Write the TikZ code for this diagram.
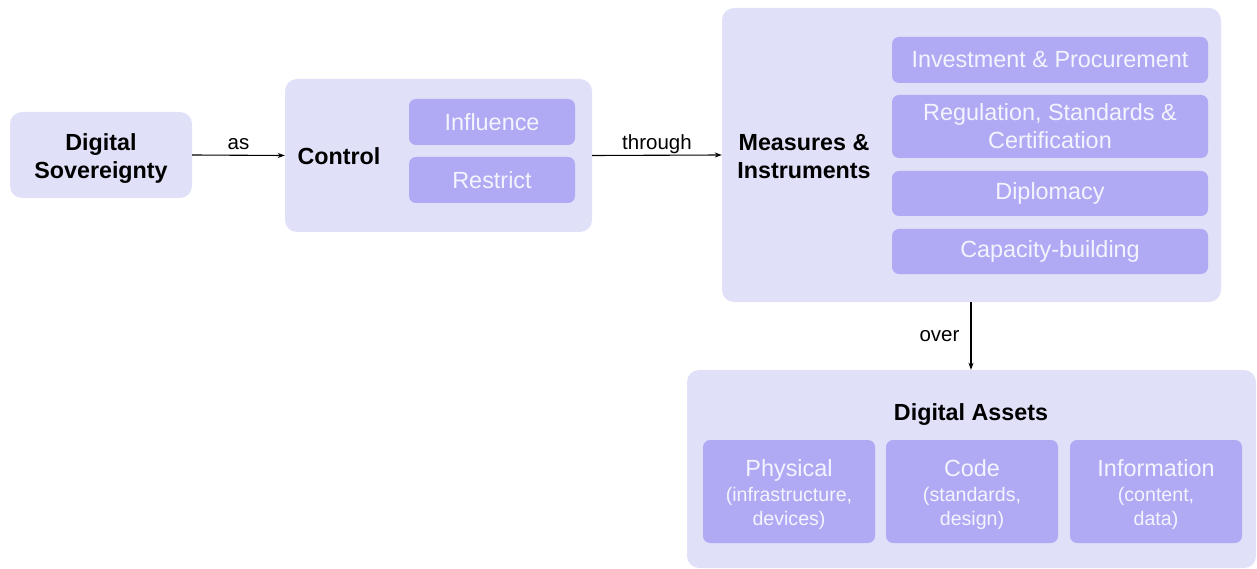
\documentclass[tikz,border=0pt]{standalone}
\usepackage{fontspec}
\setmainfont{Liberation Sans}
\usetikzlibrary{arrows.meta}
\definecolor{outerc}{RGB}{224,224,248}
\definecolor{innerc}{RGB}{176,170,244}
\definecolor{innertext}{RGB}{244,244,255}
\tikzset{
  outerbox/.style={fill=outerc, draw=none, rounded corners=12pt, inner sep=0pt},
  innerbox/.style={fill=innerc, draw=none, rounded corners=7pt, inner sep=0pt, text=innertext, align=center,
    font=\fontsize{23.4}{28}\selectfont},
  assetbox/.style={innerbox, minimum width=172pt, minimum height=103pt, font=\fontsize{23.4}{24.5}\selectfont},
  boldlabel/.style={font=\bfseries\fontsize{23.3}{28}\selectfont, align=center, inner sep=0pt},
  edgelabel/.style={font=\fontsize{20.5}{24}\selectfont, inner sep=0pt, anchor=base},
  conn/.style={draw=black, line width=1.1pt, -{Stealth[length=7pt,width=5pt]}}
}
\newcommand{\subtxt}[1]{{\fontsize{19.6}{24.5}\selectfont #1}}
\begin{document}
\begin{tikzpicture}[x=1pt,y=-1pt]
\useasboundingbox (0,0) rectangle (1257,569);
% Digital Sovereignty
\node[outerbox, minimum width=182pt, minimum height=86pt] (ds) at (101,155) {};
\node[boldlabel] (dstxt) at (101,158.5) {Digital\\Sovereignty};
% Control
\node[outerbox, minimum width=307pt, minimum height=153pt] (ctrl) at (438.5,155.5) {};
\node[boldlabel] (ctrltxt) at (339,156.5) {Control};
\node[innerbox, minimum width=166pt, minimum height=46pt] (infl) at (492,122) {Influence};
\node[innerbox, minimum width=166pt, minimum height=46pt] (restr) at (492,180) {Restrict};
% Measures
\node[outerbox, minimum width=499pt, minimum height=294pt] (meas) at (971.5,155) {};
\node[boldlabel] (meastxt) at (804,157) {Measures \&\\Instruments};
\node[innerbox, minimum width=316pt, minimum height=46pt] (inv) at (1050,60) {Investment \& Procurement};
\node[innerbox, minimum width=316pt, minimum height=63pt] (reg) at (1050,126.5) {Regulation, Standards \&\\Certification};
\node[innerbox, minimum width=316pt, minimum height=45pt] (dipl) at (1050,193.5) {Diplomacy};
\node[innerbox, minimum width=316pt, minimum height=45pt] (cap) at (1050,251.5) {Capacity-building};
% Digital Assets
\node[outerbox, minimum width=569pt, minimum height=198pt] (assets) at (971.5,469) {};
\node[boldlabel] (assetstxt) at (971,415) {Digital Assets};
\node[assetbox] (phys) at (789,491.5) {};
\node[assetbox] (code) at (972,491.5) {};
\node[assetbox] (info) at (1156,491.5) {};
\node[assetbox, fill=none, minimum width=0pt, minimum height=0pt] (physt) at (789,495) {Physical\\\subtxt{(infrastructure,}\\\subtxt{devices)}};
\node[assetbox, fill=none, minimum width=0pt, minimum height=0pt] (codet) at (972,495) {Code\\\subtxt{(standards,}\\\subtxt{design)}};
\node[assetbox, fill=none, minimum width=0pt, minimum height=0pt] (infot) at (1156,495) {Information\\\subtxt{(content,}\\\subtxt{data)}};
% Connectors
\draw[conn] (ds.east) -- (ctrl.west) node[midway, yshift=6pt, edgelabel] {as};
\draw[conn] (ctrl.east) -- (meas.west) node[midway, yshift=6pt, edgelabel] {through};
\draw[conn] (meas.south -| assetstxt) -- (assets.north -| assetstxt) node[midway, left=11pt, edgelabel, anchor=east] {over};
\end{tikzpicture}
\end{document}
